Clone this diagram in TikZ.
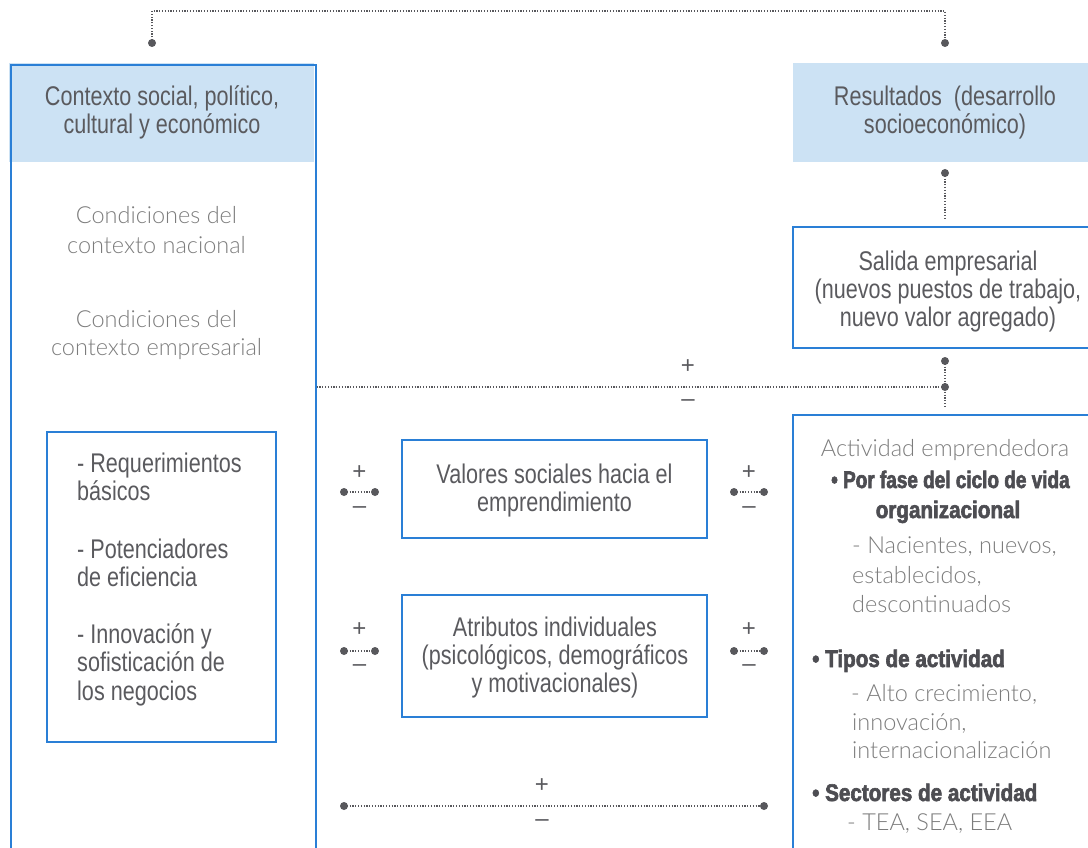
\documentclass[tikz,border=0pt]{standalone}
\usepackage{fontspec}
\setmainfont{Liberation Sans}
\newfontfamily\condf{Liberation Sans}[FakeStretch=0.80]
\newfontfamily\blackf{Liberation Sans}[FakeStretch=0.86,FakeBold=2.5]
\newfontfamily\blacknf{Liberation Sans}[FakeStretch=0.79,FakeBold=2.5]
\newfontfamily\lightf{Lato Light}
\definecolor{tgray}{HTML}{5A5A5E}
\definecolor{lgray}{HTML}{7C7C7C}
\definecolor{dgray}{HTML}{4D4D52}
\definecolor{bblue}{HTML}{2A7FD6}
\definecolor{hblue}{HTML}{CCE2F4}
\definecolor{dotc}{HTML}{58585C}
\tikzset{
  box/.style={draw=bblue, line width=1.3pt, inner sep=0pt},
  hdr/.style={fill=hblue, inner sep=0pt},
  ct/.style={font=\condf\fontsize{27}{28}\selectfont, text=tgray, inner sep=0pt},
  lt/.style={font=\lightf\fontsize{23.5}{28}\selectfont, text=lgray, inner sep=0pt},
  bt/.style={font=\blackf\bfseries\fontsize{24}{28}\selectfont, text=dgray, inner sep=0pt},
  btn/.style={font=\blacknf\bfseries\fontsize{24}{28}\selectfont, text=dgray, inner sep=0pt},
  dotl/.style={draw=dotc, line width=1.2pt, dash pattern=on 1.2pt off 1.6pt},
  pt/.style={circle, fill=dotc, inner sep=0pt, minimum size=8pt},
  pm/.style={font=\fontsize{24}{24}\selectfont, text=tgray, inner sep=0pt},
}
\begin{document}
\begin{tikzpicture}[x=1pt,y=-1pt]
\useasboundingbox (0,0) rectangle (1088,848);
% headers and boxes
\node[hdr, minimum width=305pt, minimum height=99pt] (ctxh) at (161.5,112.5) {};
\node[box, minimum width=305pt, minimum height=800pt] (ctx) at (163.5,465) {};
\node[hdr, minimum width=295pt, minimum height=99pt] (resh) at (940.5,112.5) {};
\node[box, minimum width=302pt, minimum height=121pt] (sal) at (944,287.5) {};
\node[box, minimum width=302pt, minimum height=455pt] (act) at (944,642.5) {};
\node[box, minimum width=229pt, minimum height=310pt] (req) at (161.5,587) {};
\node[box, minimum width=305pt, minimum height=98pt] (val) at (554.5,489) {};
\node[box, minimum width=305pt, minimum height=122pt] (atr) at (554.5,656) {};
% header texts
\node[ct, anchor=base] (ctx1) at (162,106) {Contexto social, político,};
\node[ct, anchor=base] (ctx2) at (162,134) {cultural y económico};
\node[ct, anchor=base] (res1) at (945,106) {Resultados\ \ (desarrollo};
\node[ct, anchor=base] (res2) at (945,134) {socioeconómico)};
% left light texts
\node[lt, anchor=base] (cn1) at (156.5,224) {Condiciones del};
\node[lt, anchor=base] (cn2) at (156.5,253) {contexto nacional};
\node[lt, anchor=base] (ce1) at (156.5,327) {Condiciones del};
\node[lt, anchor=base] (ce2) at (156.5,355) {contexto empresarial};
% inner left box texts
\node[ct, anchor=base west] (rq1) at (77,472) {- Requerimientos};
\node[ct, anchor=base west] (rq2) at (77,500) {básicos};
\node[ct, anchor=base west] (rq3) at (77,558) {- Potenciadores};
\node[ct, anchor=base west] (rq4) at (77,586) {de eficiencia};
\node[ct, anchor=base west] (rq5) at (77,643) {- Innovación y};
\node[ct, anchor=base west] (rq6) at (77,671) {sofisticación de};
\node[ct, anchor=base west] (rq7) at (77,700) {los negocios};
% centre boxes
\node[ct, anchor=base] (val1) at (554.5,483) {Valores sociales hacia el};
\node[ct, anchor=base] (val2) at (554.5,511) {emprendimiento};
\node[ct, anchor=base] (atr1) at (555,636) {Atributos individuales};
\node[ct, anchor=base] (atr2) at (555,664) {(psicológicos, demográficos};
\node[ct, anchor=base] (atr3) at (555,692) {y motivacionales)};
% salida
\node[ct, anchor=base] (sal1) at (948,270) {Salida empresarial};
\node[ct, anchor=base] (sal2) at (948,298) {(nuevos puestos de trabajo,};
\node[ct, anchor=base] (sal3) at (948,326) {nuevo valor agregado)};
% actividad
\node[lt, anchor=base] (ac0) at (945,456) {Actividad emprendedora};
\node[btn, anchor=base west] (ac1) at (831,488) {• Por fase del ciclo de vida};
\node[bt, anchor=base] (ac2) at (948,518) {organizacional};
\node[lt, anchor=base west] (ac3) at (852,553) {- Nacientes, nuevos,};
\node[lt, anchor=base west] (ac4) at (852,583) {establecidos,};
\node[lt, anchor=base west] (ac5) at (852,612) {descontinuados};
\node[bt, anchor=base west] (ac6) at (812,667) {• Tipos de actividad};
\node[lt, anchor=base west] (ac7) at (851,701) {- Alto crecimiento,};
\node[lt, anchor=base west] (ac8) at (852,730) {innovación,};
\node[lt, anchor=base west] (ac9) at (852,758) {internacionalización};
\node[bt, anchor=base west] (ac10) at (812,801) {• Sectores de actividad};
\node[lt, anchor=base west] (ac11) at (847,830) {- TEA, SEA, EEA};
% top connector
\node[pt] (t1) at (152,43) {};
\node[pt] (t2) at (945,43) {};
\draw[dotl] (t1.center) -- ++(0,-32) -| (t2.center);
% right column connectors
\node[pt] (r1) at (945,173) {};
\coordinate (r1e) at (945,218);
\draw[dotl] (r1.center) -- (r1e);
\node[pt] (r2) at (945,361) {};
\coordinate (r2e) at (945,407);
\draw[dotl] (r2.center) -- (r2e);
\node[pt] (r3) at (945,387) {};
\draw[dotl] (ctx.east |- r3) -- (r3.center);
\node[pm] (p0) at (688,367) {+};
\node[pm] (m0) at (688,403) {–};
% small connectors
\node[pt] (a1) at (344,492) {};
\node[pt] (a2) at (375,492) {};
\draw[dotl] (a1.center) -- (a2.center);
\node[pm] (pa) at (359.5,473) {+};
\node[pm] (ma) at (359.5,510) {–};
\node[pt] (b1) at (734,492) {};
\node[pt] (b2) at (764,492) {};
\draw[dotl] (b1.center) -- (b2.center);
\node[pm] (pb) at (749,473) {+};
\node[pm] (mb) at (749,510) {–};
\node[pt] (c1) at (344,651) {};
\node[pt] (c2) at (375,651) {};
\draw[dotl] (c1.center) -- (c2.center);
\node[pm] (pc) at (359.5,630) {+};
\node[pm] (mc) at (359.5,668) {–};
\node[pt] (e1) at (734,651) {};
\node[pt] (e2) at (764,651) {};
\draw[dotl] (e1.center) -- (e2.center);
\node[pm] (pe) at (749,630) {+};
\node[pm] (me) at (749,668) {–};
% bottom connector
\node[pt] (f1) at (344,806) {};
\node[pt] (f2) at (764,806) {};
\draw[dotl] (f1.center) -- (f2.center);
\node[pm] (pf) at (542,786) {+};
\node[pm] (mf) at (542,823) {–};
\end{tikzpicture}
\end{document}
